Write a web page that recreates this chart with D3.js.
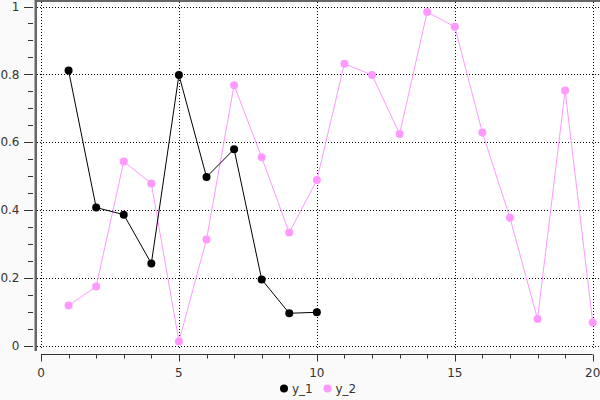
<!DOCTYPE html>
<html><head><meta charset="utf-8">
<script src="https://cdn.jsdelivr.net/npm/d3@7"></script>
<style>html,body{margin:0;padding:0;background:#fafafa;}svg{display:block;font-family:"DejaVu Sans",sans-serif;}</style>
</head><body>
<svg id="c" width="600" height="400"></svg>
<script>
const x1 = [1,2,3,4,5,6,7,8,9,10];
const y1 = [0.811,0.407,0.386,0.242,0.798,0.497,0.579,0.195,0.095,0.098];
const x2 = [1,2,3,4,5,6,7,8,9,10,11,12,13,14,15,16,17,18,19,20];
const y2 = [0.118,0.174,0.543,0.478,0.012,0.313,0.768,0.555,0.333,0.488,0.831,0.798,0.624,0.984,0.940,0.628,0.377,0.078,0.752,0.068];
const seriesNames = ["y_1","y_2"];
const colors = ["#000000","#ff99ff"];
const xTicks = [0,5,10,15,20];
const yTicks = [0,0.2,0.4,0.6,0.8,1];
const yTickLabels = ["0","0.2","0.4","0.6","0.8","1"];

const svg = d3.select("#c");
const x = d3.scaleLinear().domain([0,20]).range([41,592.7]);
const y = d3.scaleLinear().domain([0,1]).range([345.5,6.5]);

// plot background
svg.append("rect").attr("x",37).attr("y",2).attr("width",563).attr("height",348).attr("fill","#ffffff");

// grid
const g = svg.append("g").attr("stroke","#000").attr("stroke-width",1).attr("stroke-dasharray","1,2");
xTicks.forEach(t=>g.append("line").attr("x1",Math.round(x(t))+0.5).attr("x2",Math.round(x(t))+0.5).attr("y1",2).attr("y2",350));
yTicks.forEach(t=>g.append("line").attr("y1",Math.round(y(t))+0.5).attr("y2",Math.round(y(t))+0.5).attr("x1",37).attr("x2",600));

// frame (top and left gray bars)
svg.append("rect").attr("x",35).attr("y",0).attr("width",565).attr("height",2).attr("fill","#666");
svg.append("rect").attr("x",34.5).attr("y",0).attr("width",2.5).attr("height",351).attr("fill","#666");

// y axis ticks
const yMinor = d3.range(0,1.0001,0.05);
const ya = svg.append("g").attr("stroke","#333").attr("stroke-width",1);
yMinor.forEach((t,i)=>{
  const major = i%4===0;
  const yy = Math.round(y(t))+0.5;
  ya.append("line").attr("x1",major?24:28).attr("x2",33).attr("y1",yy).attr("y2",yy);
});
svg.append("g").selectAll("text").data(yTicks).join("text")
  .attr("x",19.5).attr("y",d=>y(d)).attr("dy","0.35em").attr("text-anchor","end")
  .attr("font-size",12).attr("fill","#333").text((d,i)=>yTickLabels[i]);

// x axis
const xa = svg.append("g").attr("transform","translate(0,354.5)");
xa.append("line").attr("x1",x(0)).attr("x2",x(20)).attr("stroke","#333");
d3.range(0,21,1).forEach(t=>{
  const xx = Math.round(x(t))+0.5;
  xa.append("line").attr("x1",xx).attr("x2",xx).attr("y1",0).attr("y2",t%5===0?7:4).attr("stroke","#333");
});
svg.append("g").selectAll("text").data(xTicks).join("text")
  .attr("x",d=>x(d)).attr("y",373).attr("dy","0.35em").attr("text-anchor","middle")
  .attr("font-size",12).attr("fill","#333").text(d=>d);

// series
const data = [x1.map((v,i)=>[v,y1[i]]), x2.map((v,i)=>[v,y2[i]])];
const line = d3.line().x(d=>x(d[0])).y(d=>y(d[1]));
[1,0].forEach(k=>{
  svg.append("path").datum(data[k]).attr("d",line).attr("fill","none").attr("stroke",colors[k]).attr("stroke-width",1);
  svg.append("g").selectAll("circle").data(data[k]).join("circle")
    .attr("cx",d=>x(d[0])).attr("cy",d=>y(d[1])).attr("r",4).attr("fill",colors[k]);
});

// legend
const lg = svg.append("g");
const lx = [284,327.5];
seriesNames.forEach((n,i)=>{
  lg.append("circle").attr("cx",lx[i]).attr("cy",388.5).attr("r",4).attr("fill",colors[i]);
  lg.append("text").attr("x",lx[i]+8).attr("y",388.5).attr("dy","0.35em").attr("font-size",12).attr("fill","#333").text(n);
});
</script>
</body></html>
